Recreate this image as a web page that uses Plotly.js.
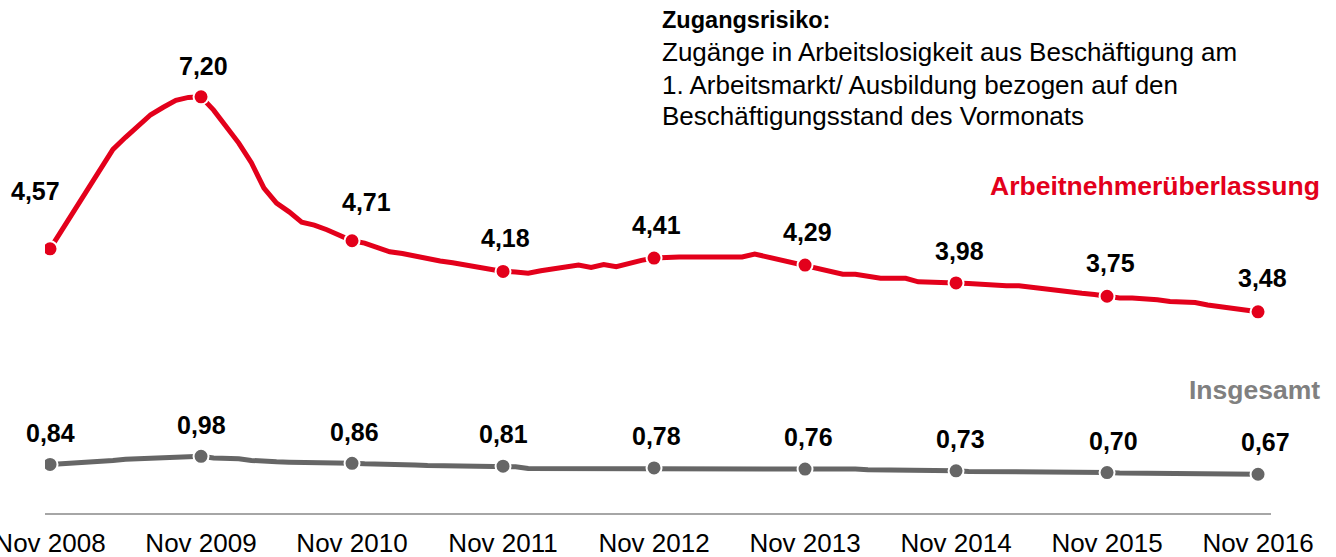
<!DOCTYPE html>
<html>
<head>
<meta charset="utf-8">
<script src="https://cdn.plot.ly/plotly-3.0.1.min.js"></script>
<style>html,body{margin:0;padding:0;background:#fff;}#chart{width:1336px;height:557px;}</style>
</head>
<body>
<div id="chart"></div>
<script>
// Monthly values Nov 2008 .. Nov 2016 (97 months)
const arbeitnehmerueberlassung = [
  4.57, 4.91, 5.26, 5.60, 5.94, 6.29, 6.50, 6.70, 6.89, 7.02, 7.14, 7.19,
  7.20, 6.97, 6.68, 6.40, 6.06, 5.62, 5.36, 5.21, 5.03, 4.98, 4.90, 4.81,
  4.71, 4.67, 4.60, 4.52, 4.49, 4.44, 4.39, 4.36, 4.33, 4.29, 4.26, 4.22,
  4.18, 4.17, 4.15, 4.19, 4.22, 4.25, 4.29, 4.25, 4.30, 4.26, 4.32, 4.37,
  4.41, 4.43, 4.43, 4.43, 4.43, 4.43, 4.43, 4.43, 4.48, 4.43, 4.39, 4.35,
  4.29, 4.24, 4.19, 4.13, 4.13, 4.09, 4.06, 4.06, 4.06, 4.00, 4.00, 3.99,
  3.98, 3.97, 3.95, 3.94, 3.93, 3.93, 3.90, 3.87, 3.84, 3.82, 3.80, 3.78,
  3.75, 3.72, 3.72, 3.71, 3.69, 3.66, 3.65, 3.64, 3.60, 3.57, 3.54, 3.51,
  3.48
];
const insgesamt = [
  0.84, 0.85, 0.86, 0.87, 0.89, 0.91, 0.93, 0.94, 0.945, 0.95, 0.975, 0.98,
  0.98, 0.95, 0.945, 0.94, 0.91, 0.89, 0.885, 0.88, 0.88, 0.875, 0.875, 0.87,
  0.86, 0.85, 0.85, 0.85, 0.85, 0.83, 0.82, 0.82, 0.82, 0.82, 0.82, 0.82,
  0.81, 0.80, 0.77, 0.77, 0.77, 0.77, 0.77, 0.77, 0.77, 0.77, 0.77, 0.77,
  0.78, 0.78, 0.78, 0.78, 0.78, 0.78, 0.78, 0.78, 0.77, 0.77, 0.77, 0.77,
  0.76, 0.76, 0.76, 0.76, 0.76, 0.75, 0.75, 0.75, 0.75, 0.74, 0.74, 0.74,
  0.73, 0.72, 0.72, 0.72, 0.72, 0.72, 0.72, 0.71, 0.71, 0.71, 0.71, 0.71,
  0.70, 0.69, 0.69, 0.69, 0.69, 0.69, 0.68, 0.68, 0.68, 0.68, 0.68, 0.68,
  0.67
];
const tickLabels = ['Nov 2008','Nov 2009','Nov 2010','Nov 2011','Nov 2012','Nov 2013','Nov 2014','Nov 2015','Nov 2016'];
const seriesNames = ['Arbeitnehmerüberlassung', 'Insgesamt'];
const noteTitle = 'Zugangsrisiko:';
const noteLines = ['Zugänge in Arbeitslosigkeit aus Beschäftigung am', '1. Arbeitsmarkt/ Ausbildung bezogen auf den', 'Beschäftigungsstand des Vormonats'];

// month categories
const months = [];
for (let i = 0; i < arbeitnehmerueberlassung.length; i++) {
  const m = (10 + i) % 12 + 1; const y = 2008 + Math.floor((10 + i) / 12);
  months.push(y + '-' + String(m).padStart(2, '0'));
}
const novIdx = months.map((m, i) => i).filter(i => i % 12 === 0);
const novX = novIdx.map(i => months[i]);
const fmt = v => v.toFixed(2).replace('.', ',');

const RED = '#e3001b', GRAY = '#666666';
const FONT = 'Liberation Sans, Arial, sans-serif';

const traces = [
  {x: months, y: arbeitnehmerueberlassung, mode: 'lines', line: {color: RED, width: 5}, hoverinfo: 'skip'},
  {x: novX, y: novIdx.map(i => arbeitnehmerueberlassung[i]), mode: 'markers',
   marker: {color: RED, size: 15, line: {color: '#fff', width: 2}}},
  {x: months, y: insgesamt, mode: 'lines', line: {color: GRAY, width: 5}, hoverinfo: 'skip'},
  {x: novX, y: novIdx.map(i => insgesamt[i]), mode: 'markers',
   marker: {color: GRAY, size: 15, line: {color: '#fff', width: 2}}}
];

const redShift = [[-15,58],[2,31],[14,39],[2,33],[2,33],[2,33],[3,32],[3,33],[4,34]];
const grayShift = [[0,31],[0,31],[2,31],[0,32],[2,32],[3,32],[4,32],[6,32],[7,32]];
const annotations = [];
novIdx.forEach((i, k) => {
  annotations.push({x: months[i], y: arbeitnehmerueberlassung[i], xref: 'x', yref: 'y', text: '<b>' + fmt(arbeitnehmerueberlassung[i]) + '</b>',
    showarrow: false, xshift: redShift[k][0], yshift: redShift[k][1], font: {family: FONT, size: 25, color: '#000'}});
  annotations.push({x: months[i], y: insgesamt[i], xref: 'x', yref: 'y', text: '<b>' + fmt(insgesamt[i]) + '</b>',
    showarrow: false, xshift: grayShift[k][0], yshift: grayShift[k][1], font: {family: FONT, size: 25, color: '#000'}});
});
const noteY = [0.9686, 0.9057, 0.8409, 0.7800];
annotations.push({xref: 'paper', yref: 'paper', x: 0.5016, y: noteY[0], xanchor: 'left', yanchor: 'middle', showarrow: false,
  text: '<b>' + noteTitle + '</b>', font: {family: FONT, size: 23.5, color: '#000'}});
noteLines.forEach((t, k) => {
  annotations.push({xref: 'paper', yref: 'paper', x: 0.5016, y: noteY[k + 1], xanchor: 'left', yanchor: 'middle', showarrow: false,
    text: t, font: {family: FONT, size: 26, color: '#000'}});
});
annotations.push({xref: 'paper', yref: 'paper', x: 1.0416, y: 0.6424, xanchor: 'right', yanchor: 'middle', showarrow: false,
  text: '<b>' + seriesNames[0] + '</b>', font: {family: FONT, size: 26.5, color: RED}});
annotations.push({xref: 'paper', yref: 'paper', x: 1.0416, y: 0.2417, xanchor: 'right', yanchor: 'middle', showarrow: false,
  text: '<b>' + seriesNames[1] + '</b>', font: {family: FONT, size: 26.5, color: '#808080'}});

const layout = {
  width: 1336, height: 557,
  margin: {l: 45, r: 65, t: 4, b: 44},
  paper_bgcolor: '#fff', plot_bgcolor: '#fff',
  showlegend: false,
  xaxis: {type: 'category', range: [-0.4, 97.03], showgrid: false, zeroline: false,
    showline: true, linecolor: '#a6a6a6', linewidth: 2, ticks: '',
    tickvals: novX, ticktext: tickLabels, tickfont: {family: FONT, size: 26, color: '#000'},
    ticklabelstandoff: 6},
  yaxis: {range: [0, 8.806], visible: false, fixedrange: true},
  annotations: annotations
};
Plotly.newPlot('chart', traces, layout, {staticPlot: true, displayModeBar: false});
</script>
</body>
</html>
